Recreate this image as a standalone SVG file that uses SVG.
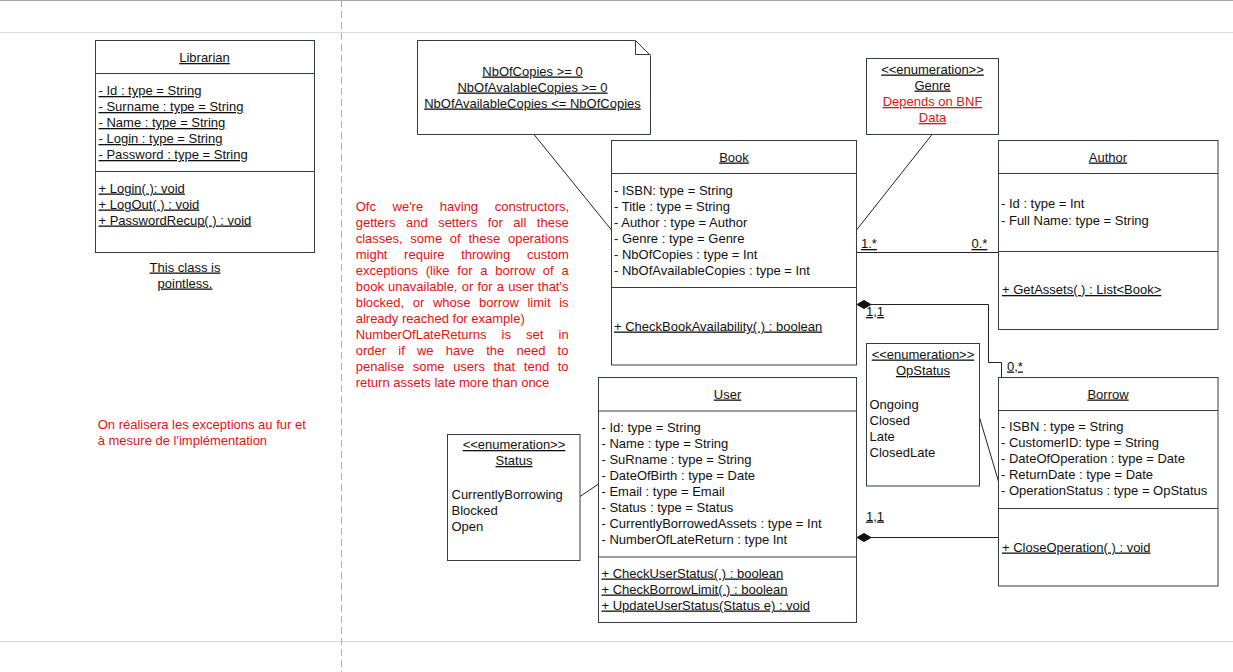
<svg xmlns="http://www.w3.org/2000/svg" width="1233" height="672" viewBox="0 0 1233 672">
<style>
.bg{fill:#fff}
.box{fill:#fff;stroke:#363b46;stroke-width:1}
.div{stroke:#363b46;stroke-width:1;fill:none}
.t{font-family:"Liberation Sans",Arial,sans-serif;font-size:13px;fill:#111}
.u{text-decoration:underline}
.c{text-anchor:middle}
.r{fill:#e01414}
.conn{stroke:#222;stroke-width:1;fill:none}
.dia{fill:#111;stroke:#111;stroke-width:1}
.grid{stroke:#cfcfcf;stroke-width:1;fill:none}
</style>
<rect class="bg" x="0" y="0" width="1233" height="672"/>
<g id="page">
<line class="grid" x1="0" y1="0.5" x2="1233" y2="0.5" stroke="#aaa" style="stroke:#aaa"/>
<line class="grid" x1="0" y1="32.5" x2="1233" y2="32.5" style="stroke:#dcdcdc"/>
<line class="grid" x1="0" y1="641.5" x2="1233" y2="641.5" style="stroke:#d4d4d4"/>
<line class="grid" x1="341.5" y1="0" x2="341.5" y2="672" style="stroke:#b0b0b0;stroke-dasharray:7 4"/>
</g>

<g id="connectors">
<line class="conn" x1="534" y1="134.5" x2="611.5" y2="230"/>
<line class="conn" x1="932" y1="134.5" x2="856.5" y2="230"/>
<line class="conn" x1="856.5" y1="252.5" x2="998.5" y2="252.5"/>
<path class="conn" d="M871,304.5 H988.5 V362.5 H1001.5 V377.5"/>
<polygon class="dia" points="857,304.5 864,300.5 871,304.5 864,308.5"/>
<line class="conn" x1="871" y1="537.5" x2="998.5" y2="537.5"/>
<polygon class="dia" points="857,537.5 864,533.5 871,537.5 864,541.5"/>
<line class="conn" x1="979.5" y1="417.5" x2="998.5" y2="481.5"/>
<line class="conn" x1="580" y1="496.5" x2="598.5" y2="484"/>
<text class="t u" x="861" y="248">1.*</text>
<text class="t u" x="971.5" y="248">0.*</text>
<text class="t u" x="866" y="316">1,1</text>
<text class="t u" x="1007" y="370.5">0,*</text>
<text class="t u" x="866" y="520.5">1,1</text>
</g>

<g id="librarian">
<rect class="box" x="95.5" y="40.5" width="219" height="212"/>
<line class="div" x1="95.5" y1="73.5" x2="314.5" y2="73.5"/>
<line class="div" x1="95.5" y1="171.5" x2="314.5" y2="171.5"/>
<text class="t u c" x="204.5" y="62">Librarian</text>
<text class="t u" x="98.5" y="95">- Id : type = String</text>
<text class="t u" x="98.5" y="111">- Surname : type = String</text>
<text class="t u" x="98.5" y="127">- Name : type = String</text>
<text class="t u" x="98.5" y="143">- Login : type = String</text>
<text class="t u" x="98.5" y="159">- Password : type = String</text>
<text class="t u" x="98.5" y="192.5">+ Login( ): void</text>
<text class="t u" x="98.5" y="208.5">+ LogOut( ) : void</text>
<text class="t u" x="98.5" y="224.5">+ PasswordRecup( ) : void</text>
</g>

<g id="librarian-comment">
<text class="t u c" x="185" y="271.5">This class is</text>
<text class="t u c" x="185" y="287.5">pointless.</text>
</g>

<g id="constraint-note">
<path class="box" d="M417.5,40.5 H635.5 L650.5,55.5 V134.5 H417.5 Z"/>
<path class="div" d="M635.5,40.5 V54.5 H650.5"/>
<text class="t u c" x="532.5" y="75.5">NbOfCopies &gt;= 0</text>
<text class="t u c" x="532.5" y="91.5">NbOfAvalableCopies &gt;= 0</text>
<text class="t u c" x="532.5" y="107.5">NbOfAvailableCopies &lt;= NbOfCopies</text>
</g>

<g id="genre">
<rect class="box" x="866.5" y="58.5" width="132" height="76"/>
<text class="t u c" x="932.5" y="73.5">&lt;&lt;enumeration&gt;&gt;</text>
<text class="t u c" x="932.5" y="89.5">Genre</text>
<text class="t u c r" x="932.5" y="106">Depends on BNF</text>
<text class="t u c r" x="932.5" y="122">Data</text>
</g>

<g id="book">
<rect class="box" x="611.5" y="140.5" width="245" height="224.5"/>
<line class="div" x1="611.5" y1="173.5" x2="856.5" y2="173.5"/>
<line class="div" x1="611.5" y1="287.5" x2="856.5" y2="287.5"/>
<text class="t u c" x="734" y="161.5">Book</text>
<text class="t" x="614" y="194.5">- ISBN: type = String</text>
<text class="t" x="614" y="210.5">- Title : type = String</text>
<text class="t" x="614" y="226.5">- Author : type = Author</text>
<text class="t" x="614" y="242.5">- Genre : type = Genre</text>
<text class="t" x="614" y="258.5">- NbOfCopies : type = Int</text>
<text class="t" x="614" y="274.5">- NbOfAvailableCopies : type = Int</text>
<text class="t u" x="614" y="330.5">+ CheckBookAvailability( ) : boolean</text>
</g>

<g id="author">
<rect class="box" x="998.5" y="140.5" width="219.5" height="189"/>
<line class="div" x1="998.5" y1="173.5" x2="1218" y2="173.5"/>
<line class="div" x1="998.5" y1="251.5" x2="1218" y2="251.5"/>
<text class="t u c" x="1108" y="161.5">Author</text>
<text class="t" x="1001" y="208">- Id : type = Int</text>
<text class="t" x="1001" y="225">- Full Name: type = String</text>
<text class="t u" x="1002" y="294">+ GetAssets( ) : List&lt;Book&gt;</text>
</g>

<g id="design-notes">
<text class="t r" x="355.7" y="211" style="word-spacing:13px">Ofc we're having constructors,</text>
<text class="t r" x="355.7" y="227" style="word-spacing:6.9px">getters and setters for all these</text>
<text class="t r" x="355.7" y="243" style="word-spacing:4.1px">classes, some of these operations</text>
<text class="t r" x="355.7" y="259" style="word-spacing:13px">might require throwing custom</text>
<text class="t r" x="355.7" y="275" style="word-spacing:4.2px">exceptions (like for a borrow of a</text>
<text class="t r" x="355.7" y="291" style="word-spacing:0.6px">book unavailable, or for a user that's</text>
<text class="t r" x="355.7" y="307" style="word-spacing:5px">blocked, or whose borrow limit is</text>
<text class="t r" x="355.7" y="323">already reached for example)</text>
<text class="t r" x="355.7" y="339" style="word-spacing:11.5px">NumberOfLateReturns is set in</text>
<text class="t r" x="355.7" y="355" style="word-spacing:8.6px">order if we have the need to</text>
<text class="t r" x="355.7" y="371" style="word-spacing:5px">penalise some users that tend to</text>
<text class="t r" x="355.7" y="387">return assets late more than once</text>
</g>

<g id="french-note">
<text class="t r" x="97.7" y="428.5">On réalisera les exceptions au fur et</text>
<text class="t r" x="97.7" y="444.5">à mesure de l'implémentation</text>
</g>

<g id="opstatus">
<rect class="box" x="866.5" y="343.5" width="113" height="142.5"/>
<text class="t u c" x="923" y="358.5">&lt;&lt;enumeration&gt;&gt;</text>
<text class="t u c" x="923" y="375">OpStatus</text>
<text class="t" x="869.5" y="408.5">Ongoing</text>
<text class="t" x="869.5" y="424.5">Closed</text>
<text class="t" x="869.5" y="440.5">Late</text>
<text class="t" x="869.5" y="456.5">ClosedLate</text>
</g>

<g id="borrow">
<rect class="box" x="998.5" y="377.5" width="219.5" height="208.5"/>
<line class="div" x1="998.5" y1="410.5" x2="1218" y2="410.5"/>
<line class="div" x1="998.5" y1="508.5" x2="1218" y2="508.5"/>
<text class="t u c" x="1108" y="398.5">Borrow</text>
<text class="t" x="1001" y="430.5">- ISBN : type = String</text>
<text class="t" x="1001" y="446.5">- CustomerID: type = String</text>
<text class="t" x="1001" y="462.5">- DateOfOperation : type = Date</text>
<text class="t" x="1001" y="478.5">- ReturnDate : type = Date</text>
<text class="t" x="1001" y="494.5">- OperationStatus : type = OpStatus</text>
<text class="t u" x="1002" y="551.5">+ CloseOperation( ) : void</text>
</g>

<g id="user">
<rect class="box" x="598.5" y="377.5" width="258" height="245"/>
<line class="div" x1="598.5" y1="411" x2="856.5" y2="411"/>
<line class="div" x1="598.5" y1="557" x2="856.5" y2="557"/>
<text class="t u c" x="727.5" y="398.5">User</text>
<text class="t" x="601.5" y="431.5">- Id: type = String</text>
<text class="t" x="601.5" y="447.5">- Name : type = String</text>
<text class="t" x="601.5" y="463.5">- SuRname : type = String</text>
<text class="t" x="601.5" y="479.5">- DateOfBirth : type = Date</text>
<text class="t" x="601.5" y="495.5">- Email : type = Email</text>
<text class="t" x="601.5" y="511.5">- Status : type = Status</text>
<text class="t" x="601.5" y="527.5">- CurrentlyBorrowedAssets : type = Int</text>
<text class="t" x="601.5" y="543.5">- NumberOfLateReturn : type Int</text>
<text class="t u" x="601.5" y="577.5">+ CheckUserStatus( ) : boolean</text>
<text class="t u" x="601.5" y="593.5">+ CheckBorrowLimit( ) : boolean</text>
<text class="t u" x="601.5" y="609.5">+ UpdateUserStatus(Status e) : void</text>
</g>

<g id="status">
<rect class="box" x="447.5" y="434.5" width="132.5" height="126"/>
<text class="t u c" x="514" y="449">&lt;&lt;enumeration&gt;&gt;</text>
<text class="t u c" x="514" y="465">Status</text>
<text class="t" x="451.5" y="498.5">CurrentlyBorrowing</text>
<text class="t" x="451.5" y="514.5">Blocked</text>
<text class="t" x="451.5" y="530.5">Open</text>
</g>
</svg>
